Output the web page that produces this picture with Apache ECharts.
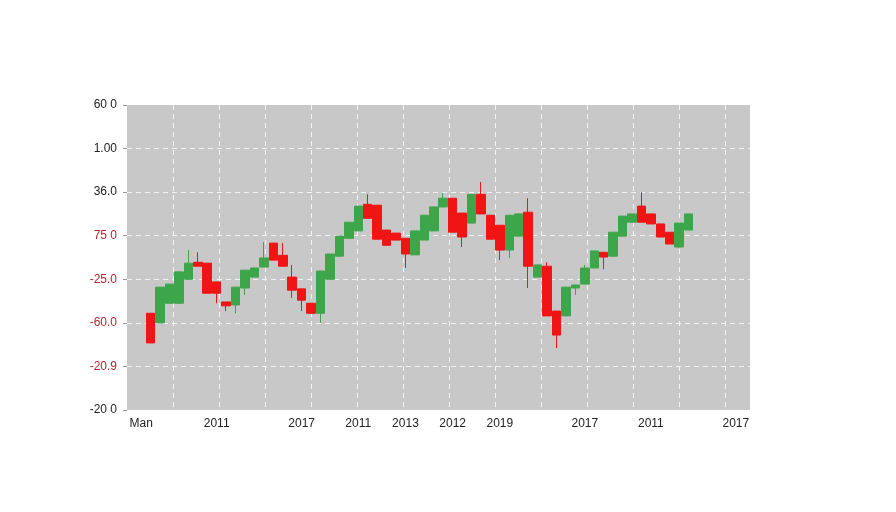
<!DOCTYPE html>
<html>
<head>
  <meta charset="UTF-8">
  <script src="https://cdn.jsdelivr.net/npm/echarts@6/dist/echarts.min.js"></script>
  <style>
    html, body { margin: 0; padding: 0; background: #fff; }
    #chart { width: 896px; height: 512px; }
  </style>
</head>
<body>
  <div id="chart"></div>
  <script>
    // tick labels (bottom to top) and x labels at category slots
    var yLabels = ['-20 0', '-20.9', '-60.0', '-25.0', '75 0', '36.0', '1.00', '60 0'];
    var yRed = [false, true, true, true, true, false, false, false];
    var xLabelAt = { 1: 'Man', 9: '2011', 18: '2017', 24: '2011', 29: '2013', 34: '2012', 39: '2019', 48: '2017', 55: '2011', 64: '2017' };
    var slotCount = 66;
    var firstSlot = 2;

    var opens  = [2.22,2.00,2.45,2.45,3.00,3.39,3.37,2.94,2.48,2.41,2.80,3.05,3.28,3.83,3.55,3.05,2.78,2.45,2.22,3.00,3.53,3.94,4.11,4.72,4.70,4.13,4.06,3.94,3.56,3.90,4.11,4.66,4.86,4.52,4.29,4.95,4.47,4.24,3.67,3.99,4.54,3.05,3.30,2.27,2.16,2.80,2.89,3.26,3.62,3.53,3.99,4.31,4.68,4.50,4.27,4.08,3.74,4.13];
    var closes = [1.54,2.82,2.89,3.17,3.37,3.30,2.68,2.68,2.39,2.82,3.21,3.26,3.49,3.44,3.30,2.75,2.52,2.22,3.19,3.58,3.99,4.31,4.68,4.40,3.92,3.78,3.90,3.58,4.11,4.47,4.66,4.86,4.08,3.97,4.95,4.50,3.92,3.67,4.47,4.50,3.30,3.33,2.16,1.72,2.82,2.87,3.26,3.65,3.51,4.08,4.45,4.50,4.31,4.27,3.97,3.81,4.29,4.50];
    var lows   = [1.54,2.00,2.45,2.45,3.00,3.30,2.68,2.45,2.27,2.22,2.64,3.05,3.28,3.44,3.30,2.57,2.27,2.22,2.00,3.00,3.53,3.94,4.11,4.40,3.92,3.78,3.90,3.26,3.56,3.90,4.11,4.66,4.08,3.74,4.29,4.50,3.92,3.44,3.49,3.99,2.80,3.05,2.16,1.42,2.16,2.64,2.89,3.26,3.23,3.53,3.99,4.31,4.31,4.27,3.97,3.81,3.72,4.13];
    var highs  = [2.22,2.82,2.89,3.17,3.67,3.62,3.37,2.94,2.48,2.82,3.21,3.26,3.85,3.83,3.83,3.33,2.78,2.45,3.19,3.58,3.99,4.31,4.68,4.95,4.70,4.13,4.06,3.94,4.11,4.47,4.66,4.98,4.86,4.52,4.95,5.23,4.47,4.24,4.47,4.50,4.86,3.33,3.39,2.27,2.82,2.87,3.33,3.65,3.62,4.08,4.45,4.50,5.00,4.50,4.27,4.08,4.29,4.50];

    var cats = [];
    var kdata = [];
    for (var i = 0; i < slotCount; i++) {
      cats.push(xLabelAt[i] || '');
      var k = i - firstSlot;
      if (k >= 0 && k < opens.length) {
        kdata.push([opens[k], closes[k], lows[k], highs[k]]);
      } else {
        kdata.push('-');
      }
    }

    var chart = echarts.init(document.getElementById('chart'));
    chart.setOption({
      animation: false,
      textStyle: { fontFamily: 'Liberation Sans' },
      grid: {
        left: 127, right: 146, top: 105, bottom: 102,
        show: true, backgroundColor: '#c8c8c8', borderWidth: 0
      },
      xAxis: [
        {
          type: 'category',
          data: cats,
          axisLine: { show: false },
          axisTick: { show: false },
          splitLine: { show: false },
          axisLabel: { interval: 0, color: '#222', fontSize: 12, margin: 8 }
        },
        {
          // vertical dashed grid lines
          type: 'value',
          min: 0, max: 623, interval: 46,
          position: 'bottom',
          axisLine: { show: false },
          axisTick: { show: false },
          axisLabel: { show: false },
          splitLine: { show: true, showMinLine: false, showMaxLine: false, lineStyle: { color: '#f2f2f2', type: [5, 4], width: 1 } }
        }
      ],
      yAxis: {
        type: 'value',
        min: 0, max: 7, interval: 1,
        axisLine: { show: false },
        axisTick: { show: true, length: 4, lineStyle: { color: '#999' } },
        splitLine: { show: true, showMinLine: false, showMaxLine: false, lineStyle: { color: '#f2f2f2', type: [5, 4], width: 1 } },
        axisLabel: {
          margin: 10,
          fontSize: 12,
          formatter: function (v) {
            var i = Math.round(v);
            return yRed[i] ? '{r|' + yLabels[i] + '}' : '{n|' + yLabels[i] + '}';
          },
          rich: {
            n: { color: '#222', fontSize: 12 },
            r: { color: '#b8232f', fontSize: 12 }
          }
        }
      },
      series: [{
        type: 'candlestick',
        xAxisIndex: 0,
        data: kdata,
        barWidth: 9,
        itemStyle: {
          color: '#3ea64a',
          color0: '#f01414',
          borderColor: '#3ea64a',
          borderColor0: '#f01414',
          borderWidth: 1
        }
      }]
    });
  </script>
</body>
</html>
